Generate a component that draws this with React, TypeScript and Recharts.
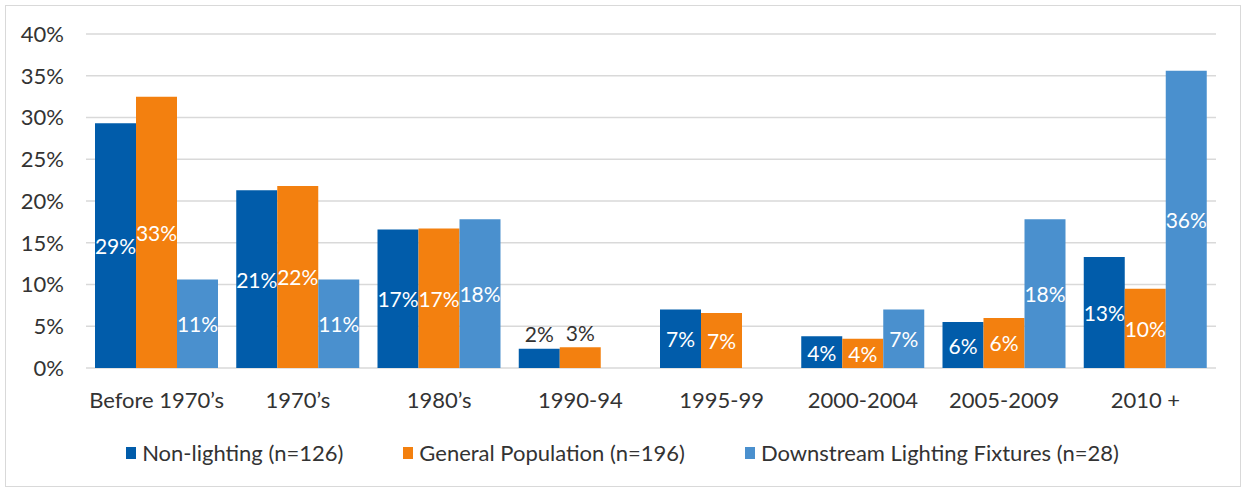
import React from 'react';
import { BarChart, Bar, XAxis, YAxis, CartesianGrid, LabelList } from 'recharts';

const categories = ['Before 1970\u2019s', '1970\u2019s', '1980\u2019s', '1990-94', '1995-99', '2000-2004', '2005-2009', '2010 +'];
const nonLighting = [29.3, 21.3, 16.6, 2.3, 7.0, 3.8, 5.5, 13.3];
const generalPop = [32.5, 21.8, 16.7, 2.5, 6.6, 3.5, 6.0, 9.5];
const downstream = [10.6, 10.6, 17.8, null, null, 7.0, 17.8, 35.6];
const yTicks = [0, 5, 10, 15, 20, 25, 30, 35, 40];

const seriesInfo = [
  { key: 'nonLighting', name: 'Non-lighting (n=126)', color: '#015CAA' },
  { key: 'generalPop', name: 'General Population (n=196)', color: '#F3800F' },
  { key: 'downstream', name: 'Downstream Lighting Fixtures (n=28)', color: '#4A90CE' },
];

const data = categories.map((c, i) => ({
  cat: c,
  nonLighting: nonLighting[i],
  generalPop: generalPop[i],
  downstream: downstream[i],
}));

const FONT = 'Lato, "Open Sans", sans-serif';

const renderLabel = (props: any) => {
  const { x, y, width, height, value } = props;
  if (value == null) return null;
  const small = value < 3;
  const cx = x + width / 2;
  const cy = small ? y - 15 : y + height / 2;
  return (
    <text
      x={cx}
      y={cy}
      textAnchor="middle"
      dominantBaseline="central"
      fill={small ? '#333' : '#fff'}
      fontSize={21}
      fontFamily={FONT}
    >
      {Math.round(value)}%
    </text>
  );
};

export default function App() {
  return (
    <div style={{ position: 'relative', width: 1245, height: 492, background: '#fff' }}>
      <style>{'body{margin:0}'}</style>
      <div style={{ position: 'absolute', left: 5, top: 5, width: 1234, height: 480, border: '1px solid #d9d9d9' }} />
      <BarChart
        width={1245}
        height={492}
        data={data}
        margin={{ top: 34, right: 29, bottom: 74, left: 0 }}
        barCategoryGap={9}
        barGap={0}
      >
        <CartesianGrid vertical={false} stroke="#d9d9d9" strokeWidth={1.5} />
        <XAxis
          dataKey="cat"
          height={50}
          axisLine={false}
          tickLine={false}
          tickSize={0}
          tickMargin={24}
          interval={0}
          tick={{ fill: '#333', fontSize: 22, fontFamily: FONT }}
        />
        <YAxis
          width={86}
          domain={[0, 40]}
          ticks={yTicks}
          axisLine={false}
          tickLine={false}
          tickSize={0}
          tickMargin={22}
          tickFormatter={(v: number) => `${v}%`}
          tick={{ fill: '#333', fontSize: 22, fontFamily: FONT }}
        />
        {seriesInfo.map((s) => (
          <Bar key={s.key} dataKey={s.key} name={s.name} fill={s.color} isAnimationActive={false}>
            <LabelList dataKey={s.key} content={renderLabel} />
          </Bar>
        ))}
      </BarChart>
      <div
        style={{
          position: 'absolute',
          top: 439,
          left: 0,
          width: 1245,
          display: 'flex',
          justifyContent: 'center',
          gap: 60,
          fontFamily: FONT,
          fontSize: 22,
          color: '#333',
        }}
      >
        {seriesInfo.map((s) => (
          <div key={s.key} style={{ display: 'flex', alignItems: 'center' }}>
            <span style={{ display: 'inline-block', width: 10, height: 12, background: s.color, marginRight: 6 }} />
            <span>{s.name}</span>
          </div>
        ))}
      </div>
    </div>
  );
}
